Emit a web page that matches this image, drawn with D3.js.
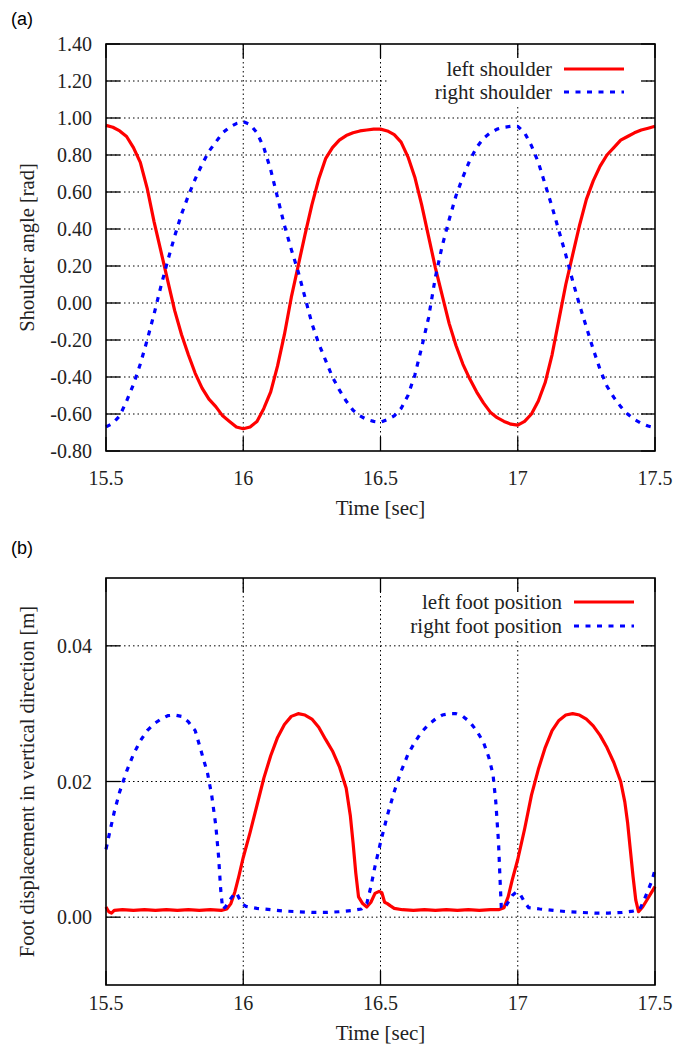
<!DOCTYPE html>
<html><head><meta charset="utf-8">
<script src="https://cdn.jsdelivr.net/npm/d3@7"></script>
<style>body{margin:0;background:#fff}svg{display:block}</style>
</head><body><div id="chart"></div>
<script>
// ---------- DATA ----------
const shoulderTime = d3.range(81).map(i => +(15.5 + i * 0.025).toFixed(3));
const leftShoulder = [
 0.96,0.95,0.93,0.90,0.84,0.76,0.62,0.44,0.28,0.12,
 -0.04,-0.17,-0.28,-0.38,-0.46,-0.52,-0.56,-0.61,-0.64,-0.67,
 -0.68,-0.67,-0.64,-0.57,-0.48,-0.34,-0.17,0.03,0.20,0.37,
 0.53,0.67,0.78,0.84,0.88,0.905,0.92,0.93,0.935,0.94,
 0.94,0.93,0.91,0.87,0.79,0.68,0.53,0.36,0.19,0.04,
 -0.11,-0.23,-0.33,-0.41,-0.48,-0.54,-0.59,-0.62,-0.64,-0.655,
 -0.66,-0.64,-0.60,-0.53,-0.43,-0.28,-0.09,0.10,0.26,0.42,
 0.56,0.66,0.74,0.80,0.84,0.88,0.90,0.92,0.935,0.945,0.955];
const rightShoulder = [
 -0.67,-0.65,-0.61,-0.53,-0.44,-0.33,-0.20,-0.06,0.09,0.23,
 0.36,0.48,0.58,0.67,0.75,0.82,0.87,0.92,0.95,0.97,
 0.98,0.965,0.92,0.84,0.72,0.57,0.42,0.29,0.17,0.03,
 -0.11,-0.22,-0.31,-0.40,-0.47,-0.53,-0.58,-0.61,-0.63,-0.64,
 -0.645,-0.63,-0.61,-0.57,-0.50,-0.39,-0.24,-0.08,0.14,0.31,
 0.45,0.58,0.68,0.77,0.84,0.89,0.92,0.94,0.95,0.955,
 0.955,0.92,0.85,0.76,0.64,0.52,0.39,0.26,0.12,-0.01,
 -0.13,-0.25,-0.36,-0.45,-0.51,-0.56,-0.60,-0.63,-0.65,-0.665,-0.675];

const leftFootTime = [15.500,15.510,15.520,15.530,15.560,15.600,15.640,15.680,15.720,15.760,15.800,15.840,15.880,15.920,15.940,15.955,15.970,15.985,16.000,16.025,16.050,16.075,16.100,16.125,16.150,16.175,16.200,16.225,16.250,16.275,16.300,16.325,16.350,16.375,16.390,16.400,16.410,16.420,16.435,16.450,16.465,16.480,16.495,16.505,16.515,16.525,16.535,16.550,16.580,16.620,16.660,16.700,16.740,16.780,16.820,16.860,16.900,16.930,16.950,16.965,16.980,17.000,17.025,17.050,17.075,17.100,17.125,17.150,17.175,17.200,17.225,17.250,17.275,17.300,17.325,17.350,17.375,17.390,17.400,17.410,17.420,17.430,17.440,17.455,17.470,17.485,17.500];
const leftFoot = [0.0015,0.0008,0.0006,0.0010,0.0011,0.0010,0.0011,0.0010,0.0011,0.0010,0.0011,0.0010,0.0011,0.0010,0.0012,0.0020,0.0038,0.0062,0.0088,0.0125,0.0165,0.0205,0.0238,0.0265,0.0284,0.0296,0.0300,0.0298,0.0292,0.0280,0.0262,0.0245,0.0222,0.0190,0.0150,0.0110,0.0065,0.0030,0.0020,0.0015,0.0022,0.0035,0.0038,0.0036,0.0022,0.0020,0.0017,0.0013,0.0011,0.0010,0.0011,0.0010,0.0011,0.0010,0.0011,0.0010,0.0011,0.0011,0.0014,0.0030,0.0055,0.0085,0.0130,0.0180,0.0218,0.0250,0.0275,0.0290,0.0298,0.0300,0.0298,0.0292,0.0282,0.0268,0.0250,0.0228,0.0200,0.0170,0.0140,0.0100,0.0060,0.0025,0.0008,0.0015,0.0025,0.0035,0.0045];

const rightFootTime = [15.500,15.515,15.530,15.550,15.575,15.600,15.625,15.650,15.675,15.700,15.725,15.750,15.775,15.800,15.825,15.850,15.870,15.885,15.900,15.910,15.918,15.925,15.935,15.950,15.965,15.975,15.985,15.995,16.010,16.050,16.100,16.150,16.200,16.250,16.300,16.350,16.400,16.430,16.450,16.465,16.480,16.500,16.525,16.550,16.575,16.600,16.625,16.650,16.675,16.700,16.725,16.750,16.775,16.800,16.825,16.850,16.875,16.895,16.910,16.920,16.930,16.935,16.940,16.950,16.965,16.980,16.995,17.010,17.025,17.040,17.080,17.130,17.180,17.230,17.280,17.330,17.380,17.420,17.445,17.460,17.475,17.490,17.500];
const rightFoot = [0.0100,0.0128,0.0155,0.0185,0.0215,0.0240,0.0260,0.0275,0.0285,0.0292,0.0297,0.0298,0.0296,0.0288,0.0275,0.0240,0.0212,0.0180,0.0135,0.0090,0.0040,0.0012,0.0015,0.0025,0.0033,0.0036,0.0028,0.0020,0.0016,0.0013,0.0011,0.0009,0.0008,0.0007,0.0007,0.0008,0.0010,0.0012,0.0020,0.0045,0.0075,0.0110,0.0150,0.0185,0.0215,0.0240,0.0258,0.0273,0.0284,0.0292,0.0298,0.0300,0.0300,0.0296,0.0288,0.0275,0.0258,0.0235,0.0210,0.0170,0.0110,0.0060,0.0015,0.0012,0.0022,0.0032,0.0037,0.0033,0.0022,0.0014,0.0012,0.0010,0.0008,0.0007,0.0006,0.0006,0.0007,0.0009,0.0012,0.0025,0.0040,0.0055,0.0070];

const xTicks = [15.5, 16, 16.5, 17, 17.5];
const xTickLabels = ["15.5", "16", "16.5", "17", "17.5"];
const yTicksA = [-0.8,-0.6,-0.4,-0.2,0,0.2,0.4,0.6,0.8,1.0,1.2,1.4];
const yTickLabelsA = ["-0.80","-0.60","-0.40","-0.20","0.00","0.20","0.40","0.60","0.80","1.00","1.20","1.40"];
const yTicksB = [0, 0.02, 0.04];
const yTickLabelsB = ["0.00", "0.02", "0.04"];
const seriesNamesA = ["left shoulder", "right shoulder"];
const seriesNamesB = ["left foot position", "right foot position"];

// ---------- DRAW ----------
const W = 688, H = 1050;
const svg = d3.select("#chart").append("svg").attr("width", W).attr("height", H);
const serif = "'Liberation Serif','Times New Roman',serif";
const sans = "'Liberation Sans',Arial,sans-serif";
const RED = "#ff0000", BLUE = "#0000ff";
const TICK = 14;

function panel(cfg) {
  const L = 106, R = 655, T = cfg.top, B = cfg.top + 407;
  const x = d3.scaleLinear().domain([15.5, 17.5]).range([L, R]);
  const y = d3.scaleLinear().domain(cfg.yDomain).range([B, T]);
  const g = svg.append("g");

  // grid
  const gx = xTicks.filter(v => v > 15.5 && v < 17.5);
  const gy = cfg.yTicks.filter(v => v > cfg.yDomain[0] && v < cfg.yDomain[1]);
  g.selectAll(".gx").data(gx).join("line")
    .attr("x1", d => x(d)).attr("x2", d => x(d)).attr("y1", T).attr("y2", B)
    .attr("stroke", "#000").attr("stroke-width", 1).attr("stroke-dasharray", "1.5,3");
  g.selectAll(".gy").data(gy).join("line")
    .attr("x1", L).attr("x2", R).attr("y1", d => y(d)).attr("y2", d => y(d))
    .attr("stroke", "#000").attr("stroke-width", 1).attr("stroke-dasharray", "1.5,3");

  // legend background (opaque key)
  g.append("rect").attr("x", cfg.keyBox[0]).attr("y", cfg.keyBox[1])
    .attr("width", cfg.keyBox[2]).attr("height", cfg.keyBox[3]).attr("fill", "#fff");

  // curves
  const line = d3.line().x(d => x(d[0])).y(d => y(d[1]));
  cfg.series.forEach(s => {
    g.append("path").datum(d3.zip(s.t, s.v)).attr("d", line)
      .attr("fill", "none").attr("stroke", s.color).attr("stroke-width", 3.2)
      .attr("stroke-linejoin", "round")
      .attr("stroke-dasharray", s.dash ? "5,6.5" : null);
  });

  // ticks (inward, all four sides)
  const tk = g.append("g").attr("stroke", "#000").attr("stroke-width", 1.3);
  xTicks.forEach(v => {
    tk.append("line").attr("x1", x(v)).attr("x2", x(v)).attr("y1", B).attr("y2", B - TICK);
    tk.append("line").attr("x1", x(v)).attr("x2", x(v)).attr("y1", T).attr("y2", T + TICK);
  });
  cfg.yTicks.forEach(v => {
    tk.append("line").attr("x1", L).attr("x2", L + TICK).attr("y1", y(v)).attr("y2", y(v));
    tk.append("line").attr("x1", R).attr("x2", R - TICK).attr("y1", y(v)).attr("y2", y(v));
  });

  // border
  g.append("rect").attr("x", L).attr("y", T).attr("width", R - L).attr("height", B - T)
    .attr("fill", "none").attr("stroke", "#000").attr("stroke-width", 1.6);

  // tick labels
  g.selectAll(".xl").data(xTicks).join("text")
    .attr("x", d => x(d)).attr("y", B + cfg.xLabOff).attr("text-anchor", "middle")
    .attr("dy", "0.35em").style("font", "20px " + serif).attr("fill", "#222")
    .text((d, i) => xTickLabels[i]);
  g.selectAll(".yl").data(cfg.yTicks).join("text")
    .attr("x", L - 14).attr("y", d => y(d)).attr("text-anchor", "end")
    .attr("dy", "0.35em").style("font", "20px " + serif).attr("fill", "#222")
    .text((d, i) => cfg.yLabels[i]);

  // axis titles
  g.append("text").attr("x", (L + R) / 2).attr("y", B + cfg.xTitleOff).attr("text-anchor", "middle")
    .attr("dy", "0.35em").style("font", "21px " + serif).attr("fill", "#222").text("Time [sec]");
  g.append("text").attr("transform", `translate(27,${(T + B) / 2}) rotate(-90)`)
    .attr("text-anchor", "middle").attr("dy", "0.35em")
    .style("font", "20.5px " + serif).attr("fill", "#222").text(cfg.yTitle);

  // panel tag
  g.append("text").attr("x", 11).attr("y", cfg.tagY).attr("dy", "0.35em")
    .style("font", "18px " + sans).attr("fill", "#000").text(cfg.tag);

  // legend
  cfg.series.forEach((s, i) => {
    const ly = cfg.keyY[i];
    g.append("text").attr("x", cfg.keyTextX).attr("y", ly).attr("dy", "0.33em")
      .attr("text-anchor", "end").style("font", "21px " + serif).attr("fill", "#222").text(s.name);
    g.append("line").attr("x1", cfg.keyTextX + 12).attr("x2", cfg.keyTextX + 72)
      .attr("y1", ly).attr("y2", ly).attr("stroke", s.color).attr("stroke-width", 3.2)
      .attr("stroke-dasharray", s.dash ? "5,6.5" : null);
  });
}

panel({
  top: 44, yDomain: [-0.8, 1.4], yTicks: yTicksA, yLabels: yTickLabelsA,
  yTitle: "Shoulder angle [rad]", tag: "(a)", tagY: 19, xLabOff: 27, xTitleOff: 57,
  keyBox: [387, 57, 256, 49], keyY: [69, 92], keyTextX: 552,
  series: [
    {name: seriesNamesA[0], t: shoulderTime, v: leftShoulder, color: RED, dash: false},
    {name: seriesNamesA[1], t: shoulderTime, v: rightShoulder, color: BLUE, dash: true}
  ]
});
panel({
  top: 578, yDomain: [-0.01, 0.05], yTicks: yTicksB, yLabels: yTickLabelsB,
  yTitle: "Foot displacement in vertical direction [m]", tag: "(b)", tagY: 548, xLabOff: 18, xTitleOff: 48,
  keyBox: [385, 591, 258, 50], keyY: [602, 626], keyTextX: 562,
  series: [
    {name: seriesNamesB[0], t: leftFootTime, v: leftFoot, color: RED, dash: false},
    {name: seriesNamesB[1], t: rightFootTime, v: rightFoot, color: BLUE, dash: true}
  ]
});
</script></body></html>
